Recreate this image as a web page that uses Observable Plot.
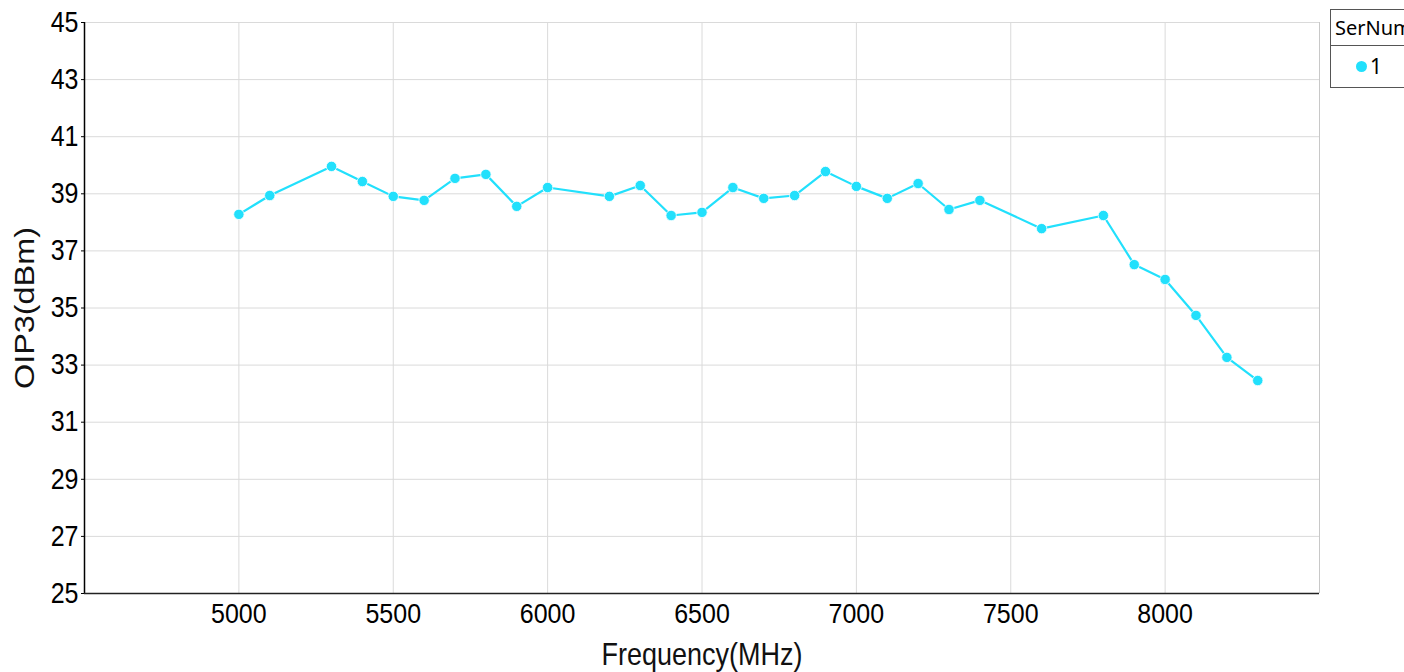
<!DOCTYPE html>
<html>
<head>
<meta charset="utf-8">
<script src="https://cdn.jsdelivr.net/npm/d3@7"></script>
<script src="https://cdn.jsdelivr.net/npm/@observablehq/plot@0.6"></script>
<style>
  html, body { margin: 0; padding: 0; background: #fff; overflow: hidden; }
  #wrap { position: relative; width: 1404px; height: 672px; overflow: hidden; }
  #legend {
    position: absolute; left: 1330px; top: 9px; width: 90px; height: 79px;
    border: 1px solid #555; background: #fff; box-sizing: border-box;
    font-family: "Noto Sans", "Open Sans", sans-serif; color: #000;
  }
  #legend .hdr { height: 35px; border-bottom: 1px solid #555; font-size: 20px; line-height: 35px; padding-left: 4px; white-space: nowrap; }
  #legend .row { position: relative; height: 42px; font-size: 21px; }
  #legend .dot { position: absolute; left: 25px; top: 15px; width: 11px; height: 11px; border-radius: 50%; background: #22e0fc; }
  #legend .lbl { position: absolute; left: 39px; top: 6px; line-height: 28px; }
</style>
</head>
<body>
<div id="wrap">
  <div id="chart"></div>
  <div id="legend"><div class="hdr">SerNum</div><div class="row"><span class="dot"></span><span class="lbl">1</span></div></div>
</div>
<script>
const freq = [5000, 5100, 5300, 5400, 5500, 5600, 5700, 5800, 5900, 6000, 6200, 6300, 6400, 6500, 6600, 6700, 6800, 6900, 7000, 7100, 7200, 7300, 7400, 7600, 7800, 7900, 8000, 8100, 8200, 8300];
const oip3 = [38.28, 38.94, 39.96, 39.43, 38.91, 38.77, 39.54, 39.68, 38.56, 39.22, 38.91, 39.29, 38.24, 38.35, 39.22, 38.84, 38.94, 39.78, 39.26, 38.84, 39.36, 38.45, 38.77, 37.78, 38.24, 36.52, 36.0, 34.74, 33.27, 32.46];
const xTicks = [5000, 5500, 6000, 6500, 7000, 7500, 8000];
const yTicks = [25, 27, 29, 31, 33, 35, 37, 39, 41, 43, 45];
const xTitle = "Frequency(MHz)";
const yTitle = "OIP3(dBm)";
const seriesColor = "#22e0fc";

const data = freq.map((f, i) => ({f, v: oip3[i]}));

const chart = Plot.plot({
  width: 1404,
  height: 672,
  marginLeft: 84,
  marginRight: 85,
  marginTop: 22,
  marginBottom: 79,
  style: {fontFamily: "'Liberation Sans', Arial, sans-serif", fontSize: "25px", color: "#000", background: "#fff", overflow: "visible"},
  x: {domain: [4500, 8500]},
  y: {domain: [25, 45]},
  marks: [
    Plot.gridX(xTicks, {stroke: "#dadada", strokeOpacity: 1, strokeWidth: 1}),
    Plot.gridY(yTicks, {stroke: "#dadada", strokeOpacity: 1, strokeWidth: 1}),
    Plot.ruleX([8500], {stroke: "#c8c8c8", strokeWidth: 1}),
    Plot.axisY(yTicks, {tickSize: 3, tickPadding: 3, label: null, fontSize: 25, tickFormat: d => String(d), className: "yax"}),
    Plot.axisX(xTicks, {tickSize: 0, tickPadding: 9, label: null, fontSize: 25, tickFormat: d => String(d), className: "xax"}),
    Plot.ruleX([4500], {stroke: "#000", strokeWidth: 1.5}),
    Plot.ruleY([25], {stroke: "#222", strokeWidth: 1.5}),
    Plot.line(data, {x: "f", y: "v", stroke: seriesColor, strokeWidth: 2.2}),
    Plot.dot(data, {x: "f", y: "v", r: 5.2, fill: seriesColor, stroke: "#fff", strokeWidth: 0.8}),
    Plot.text([xTitle], {frameAnchor: "bottom", dy: 62, lineAnchor: "middle", textAnchor: "middle", fontSize: 27, fill: "#111", className: "xtitle"}),
    Plot.text([yTitle], {frameAnchor: "left", dx: -59, rotate: -90, lineAnchor: "middle", textAnchor: "middle", fontSize: 27, fill: "#111", className: "ytitle"})
  ]
});
document.getElementById("chart").appendChild(chart);
// the reference's text is vertically stretched; mimic that with a scale
function stretch(sel, s) {
  d3.select(chart).selectAll(sel).each(function() {
    const t = this.getAttribute("transform") || "";
    this.setAttribute("transform", t + " " + s);
  });
}
stretch(".yax text", "scale(1,1.15)");
stretch(".xax text", "scale(1,1.13)");
stretch(".xtitle text", "scale(1,1.14)");
stretch(".ytitle text", "scale(1.2,1)");
</script>
</body>
</html>
